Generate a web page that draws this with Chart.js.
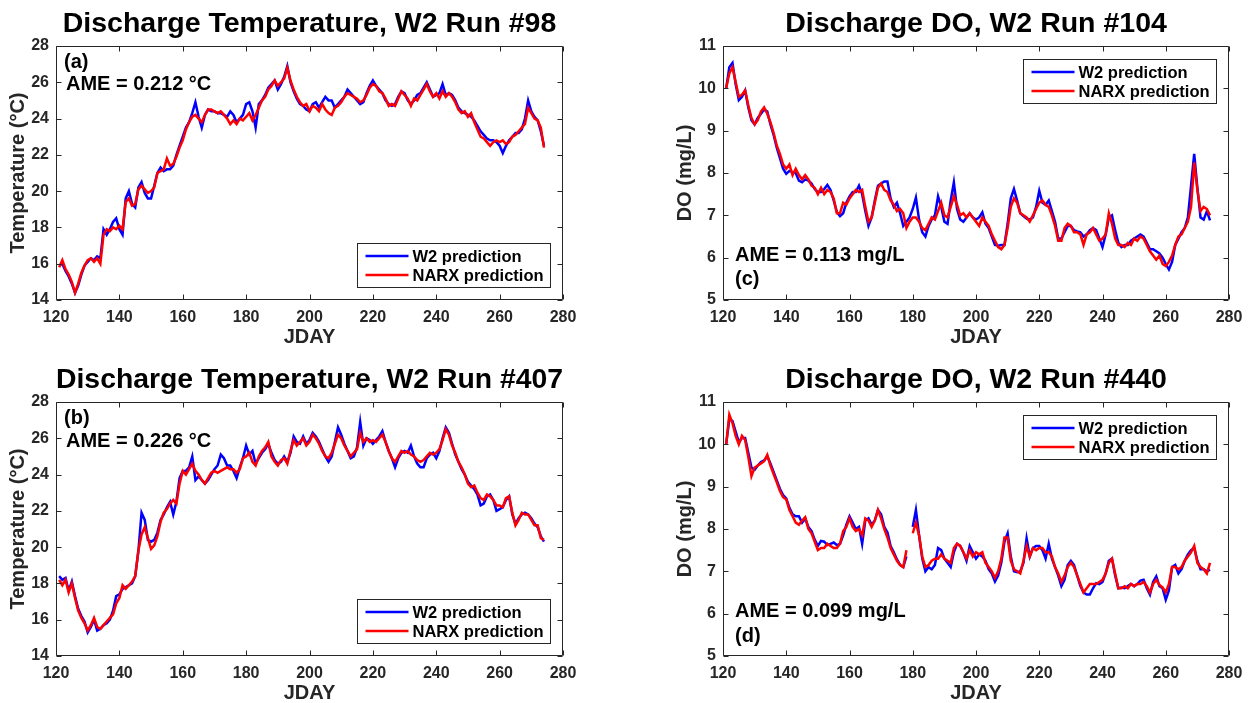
<!DOCTYPE html>
<html>
<head>
<meta charset="utf-8">
<title>Discharge Temperature and DO</title>
<script src="https://cdn.jsdelivr.net/npm/chart.js@4.4.1/dist/chart.umd.min.js"></script>
<style>
    html, body { margin: 0; padding: 0; background: #fff; overflow: hidden; }
    #page { position: relative; width: 1254px; height: 703px; }
    canvas { position: absolute; }
</style>
</head>
<body>
<div id="page">
    <canvas id="chartA" width="619" height="351" style="left:0;top:0"></canvas>
    <canvas id="chartC" width="587" height="351" style="left:667px;top:0"></canvas>
    <canvas id="chartB" width="619" height="351" style="left:0;top:356px"></canvas>
    <canvas id="chartD" width="587" height="351" style="left:667px;top:356px"></canvas>
</div>
<script>
// daily values, JDAY 121 ... 274
const firstDay = 121

// (a) temperature, run #98
const tempA_w2 = [
    15.9, 16.0, 15.6, 15.3, 14.9, 14.4, 14.8, 15.4, 15.9, 16.1,
    16.3, 16.2, 16.4, 16.3, 17.9, 17.6, 17.9, 18.3, 18.5, 17.9,
    17.6, 19.6, 20.0, 19.3, 19.1, 20.2, 20.5, 19.9, 19.6, 19.6,
    20.3, 21.0, 21.3, 21.1, 21.2, 21.2, 21.4, 22.0, 22.5, 23.0,
    23.5, 23.8, 24.3, 24.9, 24.1, 23.5, 24.2, 24.5, 24.4, 24.4,
    24.3, 24.3, 24.2, 24.1, 24.4, 24.2, 23.8, 24.0, 24.2, 24.8,
    24.9, 24.4, 23.5, 24.8, 25.0, 25.3, 25.7, 25.9, 26.1, 25.6,
    25.9, 26.3, 26.9, 26.0, 25.5, 25.1, 24.8, 24.7, 24.5, 24.4,
    24.8, 24.9, 24.6, 24.9, 25.2, 25.0, 25.0, 24.6, 24.8, 25.0,
    25.2, 25.6, 25.4, 25.2, 25.0, 24.8, 24.9, 25.4, 25.8, 26.1,
    25.8, 25.6, 25.4, 25.0, 24.8, 24.7, 24.8, 25.2, 25.5, 25.4,
    25.0, 24.8, 25.0, 25.3, 25.4, 25.7, 26.0, 25.6, 25.2, 25.3,
    25.4, 25.9, 25.3, 25.4, 25.3, 25.0, 24.6, 24.4, 24.3, 24.2,
    24.1, 23.9, 23.6, 23.3, 23.1, 22.9, 22.8, 22.8, 22.7, 22.5,
    22.1, 22.5, 22.8, 23.0, 23.2, 23.2, 23.4, 24.0, 25.0, 24.4,
    24.1, 23.9, 23.3, 22.5,
]
const tempA_narx = [
    15.8, 16.2, 15.7, 15.4, 15.0, 14.4, 14.9, 15.5, 15.9, 16.2,
    16.3, 16.1, 16.3, 16.0, 17.6, 17.9, 17.8, 18.0, 17.9, 18.1,
    17.9, 19.4, 19.6, 19.2, 19.3, 20.1, 20.3, 20.1, 19.9, 20.0,
    20.2, 21.0, 21.1, 21.2, 21.8, 21.4, 21.5, 21.9, 22.4, 22.8,
    23.4, 23.8, 24.1, 24.2, 24.0, 23.8, 24.2, 24.5, 24.5, 24.4,
    24.3, 24.4, 24.2, 24.0, 23.7, 23.9, 23.7, 24.0, 23.9, 24.1,
    24.3, 23.9, 24.2, 24.6, 25.0, 25.2, 25.6, 25.8, 26.1, 25.8,
    26.0, 26.2, 26.8, 26.1, 25.6, 25.2, 24.9, 24.7, 24.8, 24.4,
    24.7, 24.6, 24.4, 24.8, 24.5, 24.3, 24.2, 24.6, 24.7, 24.9,
    25.2, 25.4, 25.3, 25.2, 25.1, 24.9, 25.0, 25.3, 25.7, 25.9,
    25.8, 25.5, 25.4, 25.1, 24.7, 24.8, 24.7, 25.1, 25.5, 25.3,
    25.1, 24.7, 25.1, 25.0, 25.3, 25.6, 25.9, 25.5, 25.2, 25.4,
    25.1, 25.5, 25.2, 25.4, 25.2, 24.9, 24.5, 24.3, 24.4, 24.1,
    24.3, 23.8, 23.4, 23.0, 22.9, 22.7, 22.5, 22.7, 22.8, 22.7,
    22.8, 22.6, 22.7, 23.0, 23.1, 23.3, 23.5, 23.7, 24.6, 24.3,
    24.0, 23.9, 23.5, 22.4,
]

// (b) temperature, run #407
const tempB_w2 = [
    18.4, 18.2, 18.3, 17.6, 18.1, 17.3, 16.6, 16.2, 15.9, 15.3,
    15.6, 16.0, 15.4, 15.5, 15.7, 15.8, 16.0, 16.5, 17.3, 17.4,
    17.7, 17.8, 17.9, 18.0, 18.4, 19.8, 21.9, 21.5, 20.4, 20.3,
    20.4, 20.8, 21.5, 21.8, 22.2, 22.5, 21.8, 22.5, 23.8, 24.2,
    24.2, 24.4, 25.0, 23.7, 23.9, 23.7, 23.5, 23.7, 24.0, 24.3,
    24.5, 25.1, 24.9, 24.5, 24.5, 24.2, 23.8, 24.4, 24.9, 25.6,
    25.1, 25.3, 24.6, 24.9, 25.2, 25.4, 25.7, 25.2, 24.8, 24.6,
    24.7, 25.0, 24.7, 25.2, 26.1, 25.8, 25.7, 26.1, 25.7, 25.9,
    26.3, 26.1, 25.8, 25.4, 25.0, 24.7, 25.0, 25.8, 26.6, 26.2,
    25.7, 25.3, 24.9, 25.0, 25.5, 26.9, 25.6, 26.0, 25.9, 25.7,
    25.9, 26.1, 26.4, 25.8, 25.3, 24.9, 24.4, 24.9, 25.2, 25.3,
    25.2, 25.6, 25.0, 24.6, 24.4, 24.4, 24.9, 25.1, 25.2, 24.9,
    25.3, 26.0, 26.6, 26.3, 25.7, 25.1, 24.7, 24.3, 24.0, 23.6,
    23.4, 23.2, 22.9, 22.3, 22.4, 22.8, 22.9, 22.6, 22.0, 22.1,
    22.2, 22.6, 22.8, 21.8, 21.3, 21.6, 21.8, 21.9, 21.8, 21.6,
    21.3, 21.1, 20.6, 20.3,
]
const tempB_narx = [
    18.2, 17.9, 18.2, 17.5, 18.0, 17.2, 16.5, 16.1, 15.8, 15.4,
    15.7, 16.1, 15.6, 15.5, 15.7, 15.9, 16.1, 16.3, 16.9, 17.2,
    17.9, 17.7, 17.9, 18.1, 18.4, 19.8, 20.7, 21.1, 20.5, 19.9,
    20.1, 20.6, 21.4, 21.9, 22.1, 22.4, 22.6, 22.4, 23.5, 24.2,
    24.0, 24.3, 24.6, 24.2, 24.0, 23.7, 23.5, 23.8, 24.1, 24.2,
    24.1, 24.2, 24.3, 24.4, 24.3, 24.3, 24.1, 24.3, 24.9, 25.0,
    25.2, 24.7, 24.5, 25.0, 25.3, 25.5, 25.8, 25.0, 24.7, 24.5,
    24.8, 24.9, 24.6, 25.3, 25.9, 25.6, 25.8, 26.0, 25.6, 25.8,
    26.2, 26.0, 25.7, 25.3, 25.0, 24.9, 25.2, 25.7, 26.2, 26.0,
    25.6, 25.3, 25.0, 25.2, 25.4, 26.3, 25.8, 26.0, 25.8, 25.9,
    25.8, 26.0, 26.2, 25.8, 25.3, 24.9, 24.7, 25.0, 25.3, 25.2,
    25.3, 25.1, 25.0, 24.8, 24.7, 24.8, 25.0, 25.2, 25.1, 25.2,
    25.4, 25.9, 26.5, 26.2, 25.6, 25.2, 24.7, 24.4, 24.0, 23.5,
    23.3, 23.4, 23.0, 22.7, 22.6, 22.9, 22.8, 22.6, 22.3, 22.3,
    22.2, 22.7, 22.8, 21.9, 21.2, 21.5, 21.9, 21.8, 21.8, 21.5,
    21.2, 21.2, 20.5, 20.4,
]

// (c) dissolved oxygen, run #104
const doC_w2 = [
    10.0, 10.5, 10.6, 10.1, 9.72, 9.8, 9.95, 9.55, 9.25, 9.15,
    9.3, 9.4, 9.5, 9.45, 9.15, 8.9, 8.6, 8.35, 8.1, 7.98,
    8.05, 8.02, 8.0, 7.82, 7.78, 7.85, 7.82, 7.75, 7.62, 7.55,
    7.55, 7.62, 7.72, 7.6, 7.35, 7.08, 6.98, 7.05, 7.3, 7.45,
    7.55, 7.55, 7.7, 7.5, 7.1, 6.75, 6.95, 7.35, 7.7, 7.75,
    7.8, 7.8, 7.4, 7.2, 7.3, 7.05, 6.75, 6.85, 6.95, 7.15,
    7.42, 6.9, 6.6, 6.5, 6.75, 6.9, 7.0, 7.45, 7.2, 6.85,
    6.8, 7.35, 7.78, 7.15, 6.9, 6.85, 6.95, 7.05, 6.95, 6.9,
    6.95, 7.07, 6.8, 6.7, 6.5, 6.3, 6.28, 6.3, 6.3, 6.8,
    7.4, 7.62, 7.35, 7.05, 6.98, 6.92, 6.9, 6.95, 7.2, 7.58,
    7.3, 7.25, 7.35, 7.1, 6.85, 6.45, 6.45, 6.6, 6.75, 6.75,
    6.65, 6.62, 6.6, 6.5, 6.55, 6.65, 6.7, 6.65, 6.45, 6.25,
    6.55, 6.95, 7.0, 6.65, 6.35, 6.25, 6.3, 6.3, 6.4, 6.45,
    6.5, 6.55, 6.5, 6.35, 6.2, 6.2, 6.15, 6.1, 6.0, 5.85,
    5.72, 5.9, 6.3, 6.45, 6.6, 6.7, 6.95, 7.7, 8.45, 7.65,
    6.95, 6.9, 7.1, 6.88,
]
const doC_narx = [
    10.0, 10.35, 10.5, 10.15, 9.8, 9.85, 9.95, 9.6, 9.3, 9.15,
    9.25, 9.45, 9.55, 9.4, 9.2, 8.95, 8.65, 8.45, 8.2, 8.1,
    8.2, 7.95, 8.1, 7.95, 7.85, 7.95, 7.85, 7.7, 7.65, 7.5,
    7.65, 7.5, 7.6, 7.55, 7.4, 7.05, 7.05, 7.3, 7.25, 7.4,
    7.5, 7.6, 7.55, 7.6, 7.2, 6.85, 6.95, 7.3, 7.65, 7.75,
    7.6, 7.55, 7.35, 7.25, 7.1, 7.15, 7.05, 6.7, 6.85, 6.95,
    6.95, 6.85, 6.7, 6.65, 6.8, 6.95, 6.9, 7.1, 7.3, 7.0,
    6.95, 7.2, 7.45, 7.25, 7.0, 7.05, 6.95, 7.05, 6.95, 6.85,
    6.75, 6.95, 6.85, 6.75, 6.55, 6.4, 6.25, 6.2, 6.3, 6.7,
    7.2, 7.4, 7.3, 7.05, 7.0, 6.95, 6.85, 7.0, 7.15, 7.3,
    7.35, 7.25, 7.2, 7.0, 6.75, 6.4, 6.4, 6.7, 6.8, 6.75,
    6.6, 6.6, 6.55, 6.3, 6.55, 6.6, 6.7, 6.55, 6.4, 6.45,
    6.55, 7.05, 6.8, 6.45, 6.3, 6.3, 6.25, 6.35, 6.3, 6.45,
    6.4, 6.5, 6.45, 6.3, 6.15, 6.05, 5.95, 6.05, 5.85, 5.8,
    5.9, 6.05, 6.3, 6.5, 6.55, 6.7, 6.85, 7.2, 8.25, 7.6,
    7.1, 7.2, 7.15, 7.0,
]

// (d) dissolved oxygen, run #440 (null = gap in the record)
const doD_w2 = [
    10.0, 10.6, 10.55, 10.3, 10.05, 10.15, 10.15, 9.8, 9.45, 9.4,
    9.5, 9.58, 9.62, 9.72, 9.55, 9.35, 9.15, 8.95, 8.8, 8.72,
    8.5, 8.35, 8.3, 8.3, 8.15, 8.25, 8.05, 7.95, 7.75, 7.6,
    7.72, 7.7, 7.62, 7.65, 7.68, 7.62, 7.65, 7.85, 8.1, 8.3,
    8.15, 8.0, 8.05, 7.65, 8.2, 8.25, 8.1, 8.2, 8.45, 8.35,
    8.05, 7.92, 7.6, 7.45, 7.28, 7.15, 7.1, 7.35, null, 8.05,
    8.45, 7.85, 7.3, 7.0, 7.1, 7.05, 7.15, 7.55, 7.5, 7.3,
    7.2, 7.1, 7.45, 7.65, 7.6, 7.45, 7.25, 7.6, 7.45, 7.3,
    7.4, 7.35, 7.25, 7.05, 6.95, 6.76, 6.9, 7.2, 7.7, 7.9,
    7.35, 7.0, 6.98, 7.0, 7.2, 7.78, 7.35, 7.55, 7.6, 7.6,
    7.5, 7.3, 7.65, 7.3, 7.1, 6.9, 6.65, 6.8, 7.15, 7.25,
    7.15, 6.9, 6.65, 6.5, 6.45, 6.45, 6.6, 6.72, 6.7, 6.75,
    6.95, 7.25, 7.3, 6.9, 6.6, 6.62, 6.6, 6.65, 6.7, 6.65,
    6.7, 6.78, 6.8, 6.6, 6.45, 6.75, 6.88, 6.65, 6.6, 6.33,
    6.55, 7.1, 7.15, 6.95, 7.05, 7.25, 7.4, 7.5, 7.55, 7.25,
    7.05, 7.05, 7.0, 7.04,
]
const doD_narx = [
    10.0, 10.7, 10.5, 10.2, 10.0, 10.2, 10.1, 9.7, 9.25, 9.45,
    9.5, 9.55, 9.6, 9.75, 9.5, 9.3, 9.1, 8.9, 8.75, 8.7,
    8.45, 8.3, 8.15, 8.1, 8.2, 8.28, 8.0, 7.9, 7.7, 7.5,
    7.55, 7.55, 7.65, 7.6, 7.55, 7.55, 7.65, 7.95, 8.05, 8.25,
    8.05, 7.95, 8.0, 7.85, 8.25, 8.2, 8.05, 8.2, 8.45, 8.25,
    8.0, 7.8, 7.55, 7.4, 7.25, 7.15, 7.1, 7.5, null, 7.9,
    8.15, 7.85, 7.35, 7.1, 7.15, 7.25, 7.3, 7.3, 7.4, 7.3,
    7.25, 7.2, 7.55, 7.65, 7.6, 7.45, 7.3, 7.5, 7.35, 7.45,
    7.4, 7.45, 7.2, 7.1, 7.0, 6.85, 7.0, 7.3, 7.8, 7.8,
    7.25, 7.05, 7.0, 6.95, 7.25, 7.6, 7.35, 7.55, 7.5, 7.55,
    7.55, 7.45, 7.45, 7.35, 7.1, 6.95, 6.75, 6.9, 7.1, 7.2,
    7.1, 6.9, 6.7, 6.5, 6.6, 6.7, 6.7, 6.7, 6.75, 6.8,
    6.95, 7.2, 7.3, 6.95, 6.6, 6.6, 6.65, 6.6, 6.7, 6.65,
    6.7, 6.7, 6.75, 6.65, 6.5, 6.7, 6.8, 6.68, 6.62, 6.5,
    6.7, 7.1, 7.1, 7.05, 7.1, 7.25, 7.35, 7.45, 7.6, 7.2,
    7.1, 7.05, 6.95, 7.2,
]

// axis ranges: [min, max, step]
const dayTicks = [120, 280, 20]
const tempTicks = [14, 28, 2]
const doTicks = [5, 11, 1]

const jday = Array.from({ length: tempA_w2.length }, (_, i) => firstDay + i)

const AXIS_COLOR = "#262626"
Chart.defaults.font.family = "'Liberation Sans', Arial, Helvetica, sans-serif"
Chart.defaults.font.weight = "bold"
Chart.defaults.color = AXIS_COLOR

// box round the plot with short inward ticks on all four sides
const axisBox = {
    id: "axisBox",
    afterDraw(chart) {
        const { ctx, chartArea: a, scales } = chart
        const L = Math.round(a.left) + 0.5, R = Math.round(a.right) - 0.5
        const T = Math.round(a.top) + 0.5, B = Math.round(a.bottom) - 0.5
        ctx.save()
        ctx.strokeStyle = AXIS_COLOR
        ctx.lineWidth = 1
        ctx.beginPath()
        ctx.rect(L, T, R - L, B - T)
        scales.x.ticks.forEach((t) => {
            const px = Math.round(scales.x.getPixelForValue(t.value)) + 0.5
            ctx.moveTo(px, B); ctx.lineTo(px, B - 5)
            ctx.moveTo(px, T); ctx.lineTo(px, T + 5)
        })
        scales.y.ticks.forEach((t) => {
            const py = Math.round(scales.y.getPixelForValue(t.value)) + 0.5
            ctx.moveTo(L, py); ctx.lineTo(L + 5, py)
            ctx.moveTo(R, py); ctx.lineTo(R - 5, py)
        })
        ctx.stroke()
        ctx.restore()
    },
}

// MATLAB style legend box inside the axes
const boxLegend = {
    id: "boxLegend",
    afterDraw(chart, args, opts) {
        const { ctx, chartArea: a } = chart
        const w = 193, h = 44
        const x = Math.round(a.right - 13 - w) + 0.5
        const y = Math.round(opts.corner === "ne" ? a.top + 13 : a.bottom - 13 - h) + 0.5
        ctx.save()
        ctx.fillStyle = "#fff"
        ctx.strokeStyle = AXIS_COLOR
        ctx.lineWidth = 1
        ctx.fillRect(x, y, w, h)
        ctx.strokeRect(x, y, w, h)
        ctx.font = "bold 16.5px 'Liberation Sans', Arial, sans-serif"
        ctx.textBaseline = "middle"
        chart.data.datasets.forEach((ds, i) => {
            const ly = y + 12.5 + i * 19
            ctx.strokeStyle = ds.borderColor
            ctx.lineWidth = 2.5
            ctx.beginPath()
            ctx.moveTo(x + 8, ly)
            ctx.lineTo(x + 51, ly)
            ctx.stroke()
            ctx.fillStyle = "#000"
            ctx.fillText(ds.label, x + 55, ly + 1)
        })
        ctx.restore()
    },
}

// panel letter and AME text
const panelNotes = {
    id: "panelNotes",
    afterDraw(chart, args, opts) {
        const { ctx, chartArea: a } = chart
        ctx.save()
        ctx.font = "bold 20px 'Liberation Sans', Arial, sans-serif"
        ctx.fillStyle = "#000"
        ctx.textBaseline = "middle"
        opts.lines.forEach((n) => ctx.fillText(n.text, a.left + n.dx, a.top + n.dy))
        ctx.restore()
    },
}

function makePanel(id, title, yLabel, yTicks, w2, narx, notes, corner) {
    return new Chart(document.getElementById(id), {
        type: "line",
        data: {
            labels: jday,
            datasets: [
                {
                    label: "W2 prediction",
                    data: w2,
                    borderColor: "#0000ff",
                    borderWidth: 2.5,
                    pointRadius: 0,
                    order: 1,
                },
                {
                    label: "NARX prediction",
                    data: narx,
                    borderColor: "#ff0000",
                    borderWidth: 2.5,
                    pointRadius: 0,
                    order: 0,
                },
            ],
        },
        options: {
            responsive: false,
            animation: false,
            layout: { padding: { right: id === "chartA" || id === "chartB" ? 56 : 25 } },
            plugins: {
                legend: { display: false },
                tooltip: { enabled: false },
                title: {
                    display: true,
                    text: title,
                    fullSize: false,
                    color: "#000",
                    font: { size: 28.5, weight: "bold" },
                    padding: { top: 7, bottom: 4.8 },
                },
                boxLegend: { corner: corner },
                panelNotes: { lines: notes },
            },
            scales: {
                x: {
                    type: "linear",
                    min: dayTicks[0],
                    max: dayTicks[1],
                    ticks: { stepSize: dayTicks[2], padding: 8, font: { size: 16 }, color: AXIS_COLOR },
                    grid: { display: false, drawTicks: false },
                    border: { display: false },
                    title: { display: true, text: "JDAY", font: { size: 20 }, color: AXIS_COLOR, padding: { top: 0, bottom: 1.5 } },
                    afterFit: (scale) => { scale.height = 51 },
                },
                y: {
                    min: yTicks[0],
                    max: yTicks[1],
                    ticks: { stepSize: yTicks[2], padding: 7, font: { size: 16 }, color: AXIS_COLOR },
                    grid: { display: false, drawTicks: false },
                    border: { display: false },
                    title: { display: true, text: yLabel, font: { size: 20 }, color: AXIS_COLOR, padding: { top: 6, bottom: 0 } },
                    afterFit: (scale) => { scale.width = 56 },
                },
            },
        },
        plugins: [axisBox, boxLegend, panelNotes],
    })
}

makePanel("chartA", "Discharge Temperature, W2 Run #98", "Temperature (°C)", tempTicks, tempA_w2, tempA_narx,
    [{ text: "(a)", dx: 8, dy: 16 }, { text: "AME = 0.212 °C", dx: 10, dy: 38 }], "se")
makePanel("chartB", "Discharge Temperature, W2 Run #407", "Temperature (°C)", tempTicks, tempB_w2, tempB_narx,
    [{ text: "(b)", dx: 8, dy: 16 }, { text: "AME = 0.226 °C", dx: 10, dy: 39 }], "se")
makePanel("chartC", "Discharge DO, W2 Run #104", "DO (mg/L)", doTicks, doC_w2, doC_narx,
    [{ text: "AME = 0.113 mg/L", dx: 12, dy: 209 }, { text: "(c)", dx: 12, dy: 233 }], "ne")
makePanel("chartD", "Discharge DO, W2 Run #440", "DO (mg/L)", doTicks, doD_w2, doD_narx,
    [{ text: "AME = 0.099 mg/L", dx: 12, dy: 209 }, { text: "(d)", dx: 12, dy: 234 }], "ne")
</script>
</body>
</html>
